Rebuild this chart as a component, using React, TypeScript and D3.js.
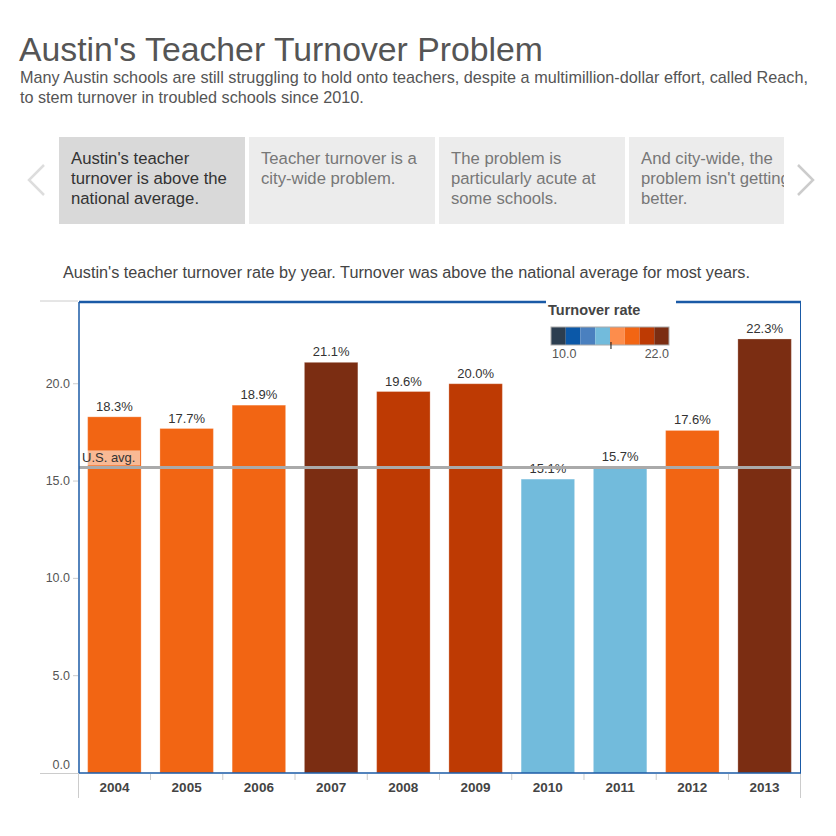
import React from "react";
import * as d3 from "d3";

const years = ["2004","2005","2006","2007","2008","2009","2010","2011","2012","2013"];
const rates = [18.3, 17.7, 18.9, 21.1, 19.6, 20.0, 15.1, 15.7, 17.6, 22.3];
const usAvg = 15.7;
const yTicks = [0, 5, 10, 15, 20];
const palette = ["#2c3e50","#0b58a8","#4a80bf","#72bbdc","#fd8d4c","#f26513","#be3a03","#7b2d12"];
const legendDomain = [10, 22];
const legendMarker = 16.1;
const cards = [
  ["Austin's teacher", "turnover is above the", "national average."],
  ["Teacher turnover is a", "city-wide problem."],
  ["The problem is", "particularly acute at", "some schools."],
  ["And city-wide, the", "problem isn't getting", "better."],
];

const W = 836, H = 836;
const L = 79, R = 800, T = 302, B = 773;
const FONT = "'Liberation Sans', Arial, sans-serif";

export default function App() {
  const x = d3.scaleBand<string>().domain(years).range([L, R]).paddingInner(0.26).paddingOuter(0.12);
  const y = d3.scaleLinear().domain([0, 24.2]).range([B, T]);
  const color = d3.scaleQuantize<string>().domain(legendDomain as [number, number]).range(palette);
  const colorOf = (v: number) => color(Math.max(legendDomain[0], Math.min(legendDomain[1], v)));
  const lx = d3.scaleLinear().domain(legendDomain).range([551, 669]);
  const sw = (669 - 551) / palette.length;
  const yAvg = y(usAvg);
  const step = x.step();
  const x0 = L + x.paddingOuter() * step - x.paddingInner() * step / 2;

  return (
    <div style={{ position: "absolute", left: 0, top: 0 }}>
      <svg width={W} height={H} style={{ display: "block", fontFamily: FONT }}>
        <rect width={W} height={H} fill="#fff" />
        {/* Title */}
        <text x={19} y={61} fontSize={34} fill="#555" textLength={524} lengthAdjust="spacingAndGlyphs">Austin's Teacher Turnover Problem</text>
        <text x={20} y={83} fontSize={16.2} fill="#555" textLength={788} lengthAdjust="spacingAndGlyphs">Many Austin schools are still struggling to hold onto teachers, despite a multimillion-dollar effort, called Reach,</text>
        <text x={20} y={103} fontSize={16.2} fill="#555">to stem turnover in troubled schools since 2010.</text>

        {/* Carousel */}
        <defs>
          <clipPath id="cardclip"><rect x={59} y={137} width={725} height={87} /></clipPath>
        </defs>
        <path d="M44,165 L29,180 L44,195" fill="none" stroke="#ddd" strokeWidth={2.5} />
        <path d="M798,165 L813,180 L798,195" fill="none" stroke="#ccc" strokeWidth={2.5} />
        <g clipPath="url(#cardclip)">
          {cards.map((c, i) => {
            const cx = 59 + i * 190;
            return (
              <g key={i}>
                <rect x={cx} y={137} width={186} height={87} fill={i === 0 ? "#d9d9d9" : "#ececec"} />
                {c.map((line, j) => (
                  <text key={j} x={cx + 12} y={164 + j * 20} fontSize={16.7} fill={i === 0 ? "#333" : "#777"}>{line}</text>
                ))}
              </g>
            );
          })}
        </g>

        {/* Caption */}
        <text x={63} y={278} fontSize={16} fill="#444" textLength={687} lengthAdjust="spacingAndGlyphs">Austin's teacher turnover rate by year. Turnover was above the national average for most years.</text>

        {/* Y axis */}
        <line x1={40} x2={78} y1={301} y2={301} stroke="#ccc" />
        <line x1={40} x2={78} y1={B + 0.5} y2={B + 0.5} stroke="#ccc" />
        {yTicks.map((t) => (
          <g key={t}>
            {t > 0 && <line x1={73} x2={78} y1={y(t)} y2={y(t)} stroke="#ccc" />}
            <text x={70} y={t === 0 ? B - 4 : y(t) + 4} fontSize={12.5} fill="#555" textAnchor="end">{t.toFixed(1)}</text>
          </g>
        ))}

        {/* Bars */}
        {rates.map((v, i) => (
          <g key={years[i]}>
            <rect x={x(years[i])} y={y(v)} width={x.bandwidth()} height={B - y(v)} fill={colorOf(v)} stroke="#fff" strokeOpacity={0.25} />
            <text x={(x(years[i]) as number) + x.bandwidth() / 2} y={y(v) - 6} fontSize={13} fill="#333" textAnchor="middle">{v.toFixed(1)}%</text>
          </g>
        ))}

        {/* US avg */}
        <line x1={L} x2={R} y1={yAvg} y2={yAvg} stroke="#aaa" strokeWidth={3} />
        <rect x={80} y={yAvg - 17} width={60} height={15} fill="#fff" fillOpacity={0.55} />
        <text x={82} y={yAvg - 5} fontSize={13} fill="#333">U.S. avg.</text>

        {/* X axis */}
        <line x1={78.5} x2={78.5} y1={B} y2={798} stroke="#ccc" />
        <line x1={R + 0.5} x2={R + 0.5} y1={B} y2={798} stroke="#ccc" />
        {years.slice(1).map((yr, i) => {
          const bx = x0 + (i + 1) * step;
          return <line key={yr} x1={bx} x2={bx} y1={B + 1} y2={B + 7} stroke="#ccc" />;
        })}
        {years.map((yr) => (
          <text key={yr} x={(x(yr) as number) + x.bandwidth() / 2} y={792} fontSize={13.5} fontWeight="bold" fill="#444" textAnchor="middle">{yr}</text>
        ))}

        {/* Frame */}
        <line x1={L} x2={R + 1} y1={T} y2={T} stroke="#1a5aa6" strokeWidth={2.5} />
        <line x1={L} x2={L} y1={T} y2={B} stroke="#1a5aa6" strokeWidth={1.5} />
        <line x1={R + 0.5} x2={R + 0.5} y1={T} y2={B} stroke="#1a5aa6" strokeWidth={1} />
        <line x1={L} x2={R + 1} y1={B} y2={B} stroke="#1a5aa6" strokeWidth={1.5} />

        {/* Legend */}
        <rect x={546} y={297} width={130} height={10} fill="#fff" />
        <text x={548} y={315} fontSize={14.5} fontWeight="bold" fill="#444">Turnover rate</text>
        {palette.map((c, i) => (
          <rect key={c} x={551 + i * sw} y={327} width={sw} height={18} fill={c} />
        ))}
        <rect x={551} y={327} width={118} height={18} fill="none" stroke="#aaa" />
        <line x1={lx(legendMarker)} x2={lx(legendMarker)} y1={342} y2={349} stroke="#111" />
        <text x={552} y={358} fontSize={12.5} fill="#555">{legendDomain[0].toFixed(1)}</text>
        <text x={669} y={358} fontSize={12.5} fill="#555" textAnchor="end">{legendDomain[1].toFixed(1)}</text>
      </svg>
    </div>
  );
}
